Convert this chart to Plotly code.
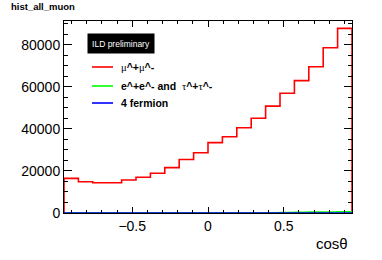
import plotly.graph_objects as go

# Data
bin_edges = [-0.95 + 0.095 * i for i in range(21)]
mumu = [16500, 14900, 14400, 14400, 15700, 17000, 18900, 21600, 25500, 28700,
        33500, 36300, 40600, 45100, 50900, 57000, 63000, 69600, 78700, 87900]
ee_tautau = [0, 0, 0, 0, 0, 0, 0, 0, 0, 0,
             0, 0, 0, 0, 100, 200, 300, 400, 500, 600]
four_fermion = [0] * 20
x_ticks = [-0.5, 0, 0.5]
x_tick_labels = ["\u22120.5", "0", "0.5"]
y_ticks = [0, 20000, 40000, 60000, 80000]
y_tick_labels = ["0", "20000", "40000", "60000", "80000"]

FONT = "Liberation Sans, Arial, Helvetica, sans-serif"
SERIF = "Liberation Serif, serif"


def step_xy(edges, vals):
    xs = [edges[0]] + list(edges[:-1]) + [edges[-1], edges[-1]]
    ys = [0] + list(vals) + [vals[-1], 0]
    return xs, ys


fig = go.Figure()
for vals, col in [(mumu, "#ff0000"), (ee_tautau, "#00ff00"), (four_fermion, "#0000ff")]:
    xs, ys = step_xy(bin_edges, vals)
    fig.add_trace(go.Scatter(x=xs, y=ys, mode="lines", line=dict(color=col, width=1.6, shape="hv"),
                             showlegend=False, hoverinfo="skip"))

W, H = 382, 260
# plot area in target-image pixels
X0, X1, Y0, Y1 = 64, 352, 21, 213
L, T = X0, Y0
R, B = W - X1, H - Y1
pw, ph = X1 - X0, Y1 - Y0


def px(x):
    return (x - X0) / pw


def py(y):
    return (Y1 - y) / ph


fig.update_layout(
    width=W, height=H,
    margin=dict(l=L, r=R, t=T, b=B, autoexpand=False),
    paper_bgcolor="white", plot_bgcolor="white",
    font=dict(family=FONT, size=14, color="black"),
    hovermode=False,
    xaxis=dict(range=[-0.95, 0.95], tickvals=x_ticks, ticktext=x_tick_labels,
               ticks="inside", ticklen=6, tickwidth=1, tickcolor="black",
               showline=True, linecolor="black", linewidth=1, mirror="ticks",
               showgrid=False, zeroline=False,
               minor=dict(dtick=0.1, tick0=0, ticks="inside", ticklen=3, tickcolor="black", showgrid=False),
               tickfont=dict(size=14)),
    yaxis=dict(range=[0, 91400], tickvals=y_ticks, ticktext=y_tick_labels,
               ticks="inside", ticklen=8, tickwidth=1, tickcolor="black",
               showline=True, linecolor="black", linewidth=1, mirror="ticks",
               showgrid=False, zeroline=False,
               minor=dict(dtick=5000, tick0=0, ticks="inside", ticklen=4, tickcolor="black", showgrid=False),
               tickfont=dict(size=14)),
)

annotations = [
    dict(text="<b>hist_all_muon</b>", x=px(9), y=py(7), xref="paper", yref="paper",
         xanchor="left", yanchor="middle", showarrow=False, font=dict(size=9.5, family=FONT)),
    dict(text="cos\u03b8", x=px(350), y=py(243), xref="paper", yref="paper",
         xanchor="right", yanchor="middle", showarrow=False, font=dict(size=15, family=FONT)),
    dict(text="ILD preliminary", x=px(120.5), y=py(43.5), xref="paper", yref="paper",
         xanchor="center", yanchor="middle", showarrow=False, bgcolor="black",
         font=dict(size=8.5, color="white", family=FONT), borderpad=3, width=60, height=13),
]


def greek(ch):
    return "<span style='font-family:%s;font-weight:normal'>%s</span>" % (SERIF, ch)


entries = [
    (greek("\u03bc") + "^+" + greek("\u03bc") + "^-", "#ff0000", 67),
    ("e^+e^- and  " + greek("\u03c4") + "^+" + greek("\u03c4") + "^-", "#00ff00", 86),
    ("4 fermion", "#0000ff", 103),
]
shapes = []
for txt, col, yy in entries:
    shapes.append(dict(type="line", xref="paper", yref="paper", x0=px(92), x1=px(113),
                       y0=py(yy), y1=py(yy), line=dict(color=col, width=1.6)))
    annotations.append(dict(text="<b>" + txt + "</b>", x=px(119), y=py(yy), xref="paper", yref="paper",
                            xanchor="left", yanchor="middle", showarrow=False,
                            font=dict(size=10.5, family=FONT)))

fig.update_layout(annotations=annotations, shapes=shapes)
fig.write_html("out.html", config={"displayModeBar": False, "staticPlot": True},
               post_script="document.body.style.margin='0';")
